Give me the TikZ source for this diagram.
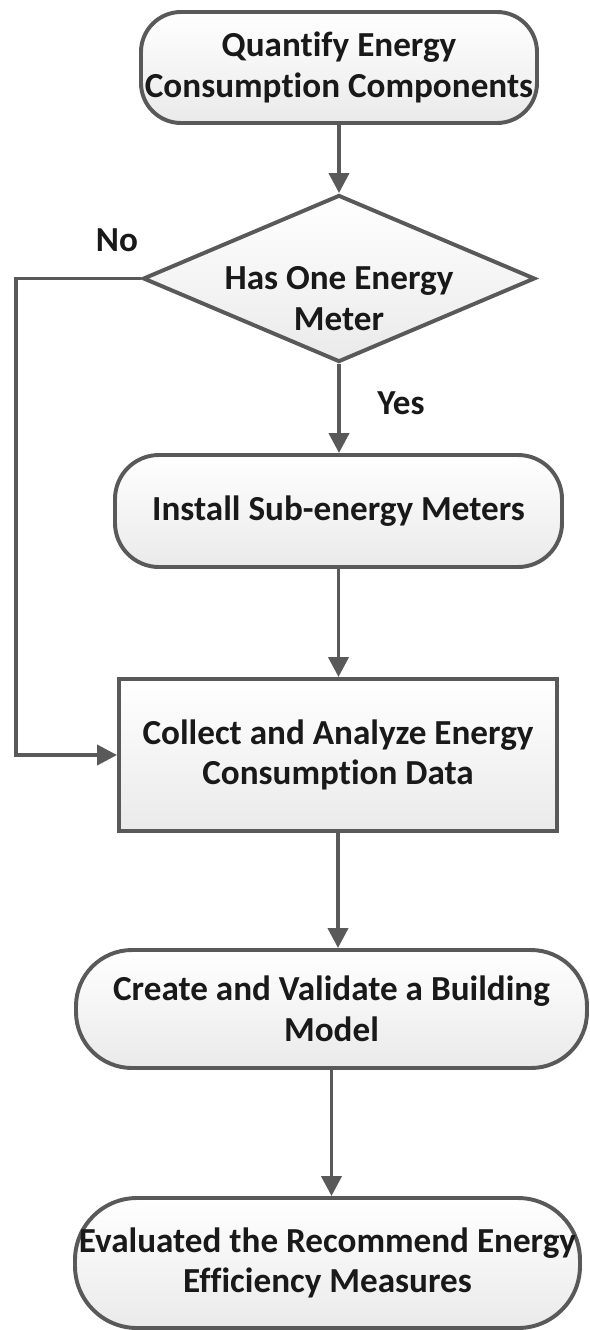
\documentclass[tikz,border=0pt]{standalone}
\usepackage{fontspec}
\setmainfont{Carlito}[Ligatures=NoCommon]
\usetikzlibrary{shapes.geometric,arrows.meta}
\definecolor{linegray}{RGB}{89,89,89}
\definecolor{fillgray}{RGB}{234,234,234}
\tikzset{
  txt/.style={font=\bfseries\fontsize{25}{29}\selectfont, text=black!90, align=center},
  box/.style={txt, draw=linegray, line width=2.8pt, top color=white, bottom color=fillgray, inner sep=0pt},
  terminal/.style={box, rounded corners=#1},
  decision/.style={box, diamond},
  arr/.style={draw=linegray, line width=2.8pt, -{Triangle[length=0.5cm,width=0.5cm]}}
}
\begin{document}
  \begin{tikzpicture}
    \useasboundingbox (0,0) rectangle (14.75,-33.25);
    \node[terminal=1cm, minimum width=9.9cm, minimum height=2.775cm] (quant) at (8.475,-1.6875)
         {Quantify Energy\\Consumption Components};
    \node[decision, minimum width=9.8cm, minimum height=4.175cm] (meter) at (8.475,-6.9625) {};
    \node[txt] (metertext) at ([yshift=-0.5cm]meter.center) {Has One Energy\\Meter};
    \node[terminal=1.1cm, minimum width=11.175cm, minimum height=2.8cm] (install) at (8.4625,-12.775)
         {Install Sub-energy Meters};
    \node[box, minimum width=10.95cm, minimum height=3.8cm] (collect) at (8.45,-18.875)
         {Collect and Analyze Energy\\Consumption Data};
    \node[terminal=1.4cm, minimum width=12.775cm, minimum height=2.95cm] (create) at (8.2875,-25.225)
         {Create and Validate a Building\\Model};
    \node[terminal=1.55cm, minimum width=12.625cm, minimum height=3.25cm] (evaluate) at (8.1875,-31.575)
         {Evaluated the Recommend Energy\\Efficiency Measures};
    \node[txt] (no) at (2.925,-6.0) {No};
    \node[txt] (yes) at (10.025,-10.075) {Yes};
    \coordinate (nobend) at (0.4,0);
    % connectors
    \draw[arr] (quant) -- (meter);
    \draw[arr] (meter.south) -- (meter.south |- install.north);
    \draw[arr] (install.south) -- (install.south |- collect.north);
    \draw[arr] (meter.west) -- (meter.west -| nobend) |- (collect.west);
    \draw[arr] (collect.south) -- (collect.south |- create.north);
    \draw[arr] (create.south) -- (create.south |- evaluate.north);
  \end{tikzpicture}
\end{document}
